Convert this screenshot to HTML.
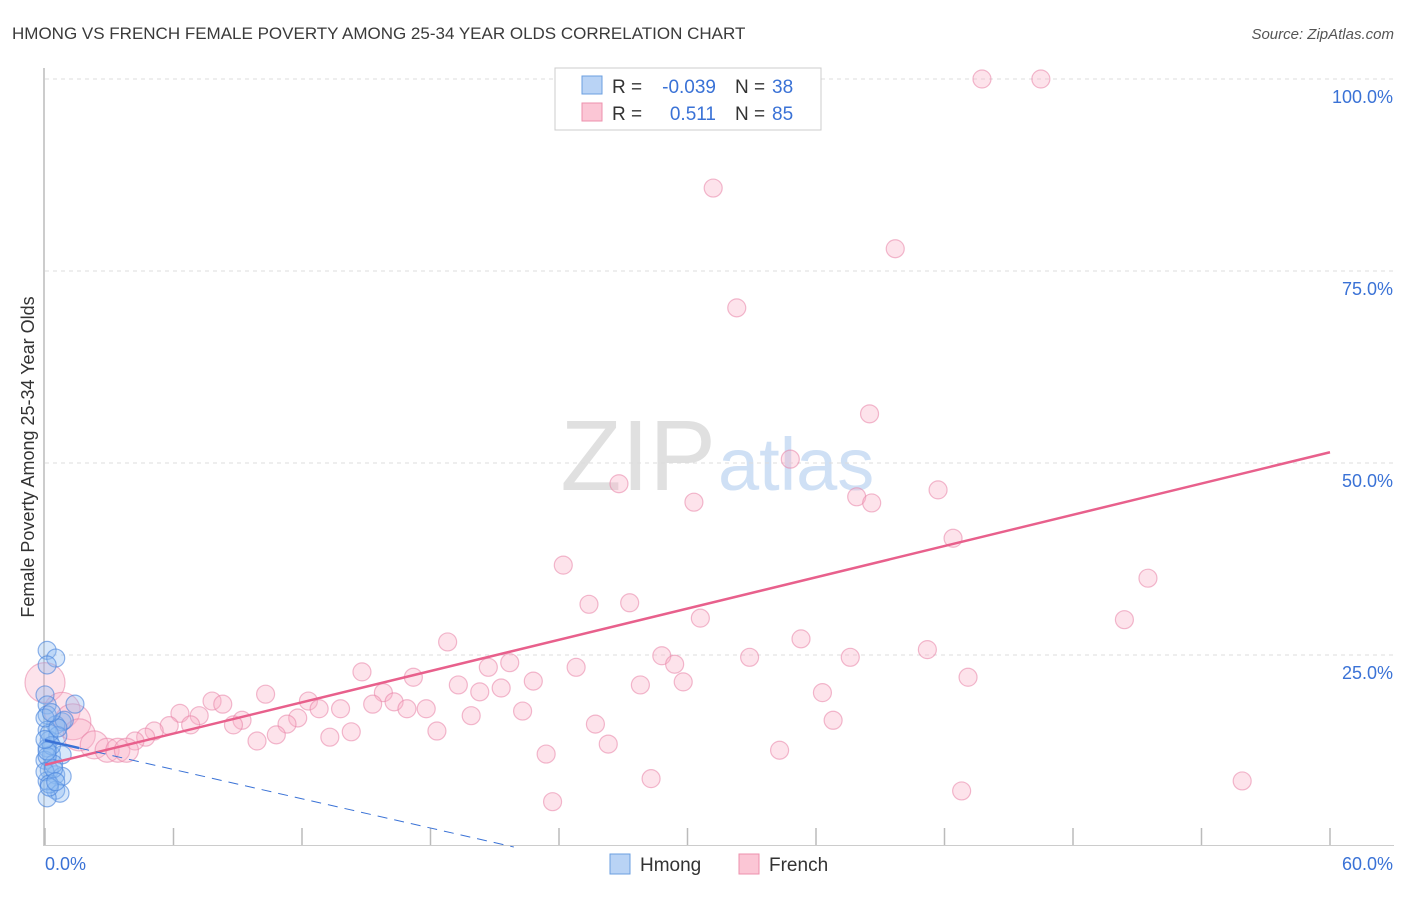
<!DOCTYPE html>
<html><head><meta charset="utf-8"><style>
body{margin:0;background:#fff;font-family:"Liberation Sans",sans-serif;}
svg text{font-family:"Liberation Sans",sans-serif;}
</style></head><body>
<svg id="chart" width="1406" height="892">
<text x="12" y="39" font-size="17" fill="#3a3a3a">HMONG VS FRENCH FEMALE POVERTY AMONG 25-34 YEAR OLDS CORRELATION CHART</text>
<text x="1394" y="39" font-size="15" fill="#555" font-style="italic" text-anchor="end">Source: ZipAtlas.com</text>
<text x="716" y="490" font-size="100" fill="#e0e0e0" font-family="Liberation Serif,serif" text-anchor="end">ZIP</text>
<text x="718" y="490" font-size="74" fill="#cfe0f5">atlas</text>
<text transform="translate(34,457) rotate(-90)" font-size="18" fill="#333" text-anchor="middle">Female Poverty Among 25-34 Year Olds</text>
<g id="grid"></g><g id="pts"></g><g id="lines"></g>
<g>
<rect x="555" y="68" width="266" height="62" fill="#fff" stroke="#ccc"/>
<rect x="582" y="76" width="20" height="18" fill="#b9d3f5" stroke="#6b9fe0"/>
<rect x="582" y="103" width="20" height="18" fill="#fbc6d5" stroke="#ee90ad"/>
<text x="612" y="93" font-size="19" fill="#333">R =</text>
<text x="716" y="93" font-size="19" fill="#3a72d6" text-anchor="end">-0.039</text>
<text x="735" y="93" font-size="19" fill="#333">N =</text>
<text x="772" y="93" font-size="19" fill="#3a72d6">38</text>
<text x="612" y="120" font-size="19" fill="#333">R =</text>
<text x="716" y="120" font-size="19" fill="#3a72d6" text-anchor="end">0.511</text>
<text x="735" y="120" font-size="19" fill="#333">N =</text>
<text x="772" y="120" font-size="19" fill="#3a72d6">85</text>
</g>
<g>
<rect x="610" y="854" width="20" height="20" fill="#b9d3f5" stroke="#6b9fe0"/>
<text x="640" y="871" font-size="19" fill="#333">Hmong</text>
<rect x="739" y="854" width="20" height="20" fill="#fbc6d5" stroke="#ee90ad"/>
<text x="769" y="871" font-size="19" fill="#333">French</text>
</g>
</svg>
<script>
const yTicks=[25,50,75,100];
const xTickLabels=["0.0%","60.0%"];
const frenchX=[43.75,46.5,31.2,39.7,32.3,38.5,34.8,26.8,30.3,37.9,38.6,41.7,42.4,24.2,25.4,27.3,30.6,51.5,50.4,18.8,35.3,28.8,41.2,32.9,37.6,21.7,20.7,24.8,29.4,14.8,17.2,43.1,22.8,29.8,19.3,27.8,21.3,20.3,15.8,10.3,36.3,12.3,7.8,8.3,15.3,16.3,12.8,13.8,16.9,17.8,22.3,6.3,7.2,19.9,11.8,9.2,36.8,5.8,6.8,8.8,11.3,25.7,5.1,18.3,14.3,4.7,10.8,13.3,4.2,9.9,26.3,34.3,23.4,28.3,55.9,42.8,23.7,0,0.8,1.3,1.6,2.3,2.9,3.4,3.8];
const frenchY=[100,100,85.8,77.9,70.2,56.4,50.5,47.3,44.9,45.6,44.8,46.5,40.2,36.7,31.6,31.8,29.8,35.0,29.6,26.7,27.1,24.9,25.7,24.7,24.7,24.0,23.4,23.4,23.8,22.8,22.1,22.1,21.6,21.5,21.1,21.1,20.7,20.2,20.1,19.9,20.1,19.0,19.0,18.6,18.6,18.9,18.0,18.0,18.0,18.0,17.7,17.4,17.1,17.1,16.8,16.5,16.5,15.8,15.9,15.9,16.0,16.0,15.1,15.1,15.0,14.3,14.6,14.3,13.8,13.8,13.4,12.6,12.1,8.9,8.6,7.3,5.9,21.4,17.8,16.3,14.6,13.3,12.6,12.6,12.6];
const frenchR=[9,9,9,9,9,9,9,9,9,9,9,9,9,9,9,9,9,9,9,9,9,9,9,9,9,9,9,9,9,9,9,9,9,9,9,9,9,9,9,9,9,9,9,9,9,9,9,9,9,9,9,9,9,9,9,9,9,9,9,9,9,9,9,9,9,9,9,9,9,9,9,9,9,9,9,9,9,20,18,18,16,14,12,12,12];
const hmongX=[0.1,0.5,0.1,1.4,0,0.1,0.1,0.8,0.5,0.1,0.2,0.1,0.3,0,0.8,0.2,0.5,0.8,0.1,0.5,0.7,0.1,0.9,0.6,0.2,0,0.3,0.4,0.1,0,0.2,0.6,0.3,0.1,0.4,0,0.2,0.5];
const hmongY=[25.6,24.6,23.7,18.6,19.8,18.5,17.2,16.3,15.9,15.2,13.9,12.9,12,11.3,12,10,9.4,9.2,8.6,7.4,7,6.4,16.5,14.5,14.8,16.8,13.2,10.8,11.8,9.8,8.2,15.5,17.5,12.5,10.2,14,7.8,8.5];
const frenchLine=[10.7,51.4];
const hmongLine=[13.9,-0.635];
const X=v=>45+v/60*1285, Y=v=>847-v*7.68;
const NS="http://www.w3.org/2000/svg";
function mk(t,a,p){const e=document.createElementNS(NS,t);for(const k in a)e.setAttribute(k,a[k]);p.appendChild(e);return e;}
const g=document.getElementById('grid');
let ax=mk('line',{x1:44,y1:68,x2:44,y2:846,stroke:'#bbb','stroke-width':1.5},g);


let bx=mk('line',{x1:44,y1:845.5,x2:1394,y2:845.5,stroke:'#ccc'},g);


yTicks.forEach(t=>{
 const l=mk('line',{x1:45,x2:1394,y1:Y(t),y2:Y(t),stroke:'#ddd','stroke-dasharray':'4,4'},g);
 
 
 const tx=mk('text',{x:1393,y:Y(t)+24,'font-size':18,fill:'#3a72d6','text-anchor':'end'},g);
 tx.textContent=t.toFixed(1)+'%';
 
 
});
for(let i=0;i<=10;i++){
 const l=mk('line',{x1:X(i*6),x2:X(i*6),y1:828,y2:845,stroke:'#bbb','stroke-width':1.5},g);
 
 
}
xTickLabels.forEach((s,i)=>{
 const tx=mk('text',{x:i?1393:45,y:870,'font-size':18,fill:'#3a72d6','text-anchor':i?'end':'start'},g);
 tx.textContent=s;
 
 
});
const p=document.getElementById('pts');
frenchX.forEach((x,i)=>{
 const c=mk('circle',{cx:X(x),cy:Y(frenchY[i]),r:frenchR[i],fill:'rgba(248,175,198,0.35)',stroke:'rgba(232,130,165,0.55)','stroke-width':1.2},p);
 
 
});
hmongX.forEach((x,i)=>{
 const c=mk('circle',{cx:X(x),cy:Y(hmongY[i]),r:9,fill:'rgba(140,185,240,0.35)',stroke:'rgba(70,130,220,0.6)','stroke-width':1.2},p);
 
 
});
const L=document.getElementById('lines');
let fl=mk('line',{x1:X(0),y1:Y(frenchLine[0]),x2:X(60),y2:Y(frenchLine[1]),stroke:'#e8608c','stroke-width':2.5},L);


const hEnd=-hmongLine[0]/hmongLine[1];
let hs=mk('line',{x1:X(0),y1:Y(hmongLine[0]),x2:X(1.6),y2:Y(hmongLine[0]+hmongLine[1]*1.6),stroke:'#3a72d6','stroke-width':2.5},L);


let hd=mk('line',{x1:X(1.6),y1:Y(hmongLine[0]+hmongLine[1]*1.6),x2:X(hEnd),y2:Y(0),stroke:'#3a72d6','stroke-width':1,'stroke-dasharray':'10,7'},L);


</script>
</body></html>
